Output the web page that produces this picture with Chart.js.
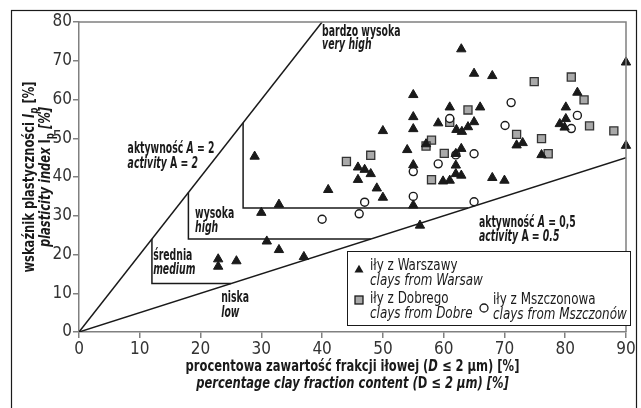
<!DOCTYPE html>
<html>
<head>
<meta charset="utf-8">
<script src="https://cdn.jsdelivr.net/npm/chart.js@4/dist/chart.umd.min.js"></script>
<style>
	html, body { margin: 0; padding: 0; background: #fff; }
	#wrap { width: 641px; height: 408px; }
</style>
</head>
<body>
<div id="wrap"><canvas id="chart" width="641" height="408"></canvas></div>
<script>
// clay content D <= 2 um [%] vs plasticity index Ip [%]
const warsawX = [28.9, 32.9, 30.0, 30.9, 32.9, 37.0, 22.9, 22.9, 25.9, 41.0,
	50.0, 55.0, 59.1, 54.0, 45.9, 47.0, 48.0, 45.9, 49.0, 50.0,
	55.0, 55.0, 56.1, 59.9, 61.0, 62.1, 63.0, 64.0, 65.0, 57.1,
	62.9, 62.0, 62.0, 62.0, 62.9, 62.9, 65.0, 68.0, 55.0, 61.0,
	66.0, 55.0, 82.0, 80.1, 80.1, 79.1, 79.9, 90.0, 72.0, 73.0,
	76.1, 68.0, 70.0, 90.0];
const warsawY = [45.3, 32.9, 30.8, 23.4, 21.2, 19.4, 18.8, 16.9, 18.3, 36.7,
	51.9, 52.4, 53.9, 47.0, 42.5, 41.9, 40.8, 39.3, 37.1, 34.7,
	43.1, 32.7, 27.5, 38.9, 39.1, 52.2, 51.7, 52.9, 54.2, 48.5,
	47.3, 46.0, 43.0, 40.8, 40.4, 73.0, 66.7, 66.1, 61.2, 58.0,
	58.0, 55.5, 61.8, 58.0, 55.0, 53.7, 52.8, 69.6, 48.2, 48.8,
	45.7, 39.8, 39.1, 48.1];

const dobreX = [44.0, 48.0, 58.0, 57.1, 60.1, 58.0, 61.0, 64.0, 74.9, 81.0, 83.1, 84.0, 88.0, 72.0, 76.1, 77.2];
const dobreY = [44.0, 45.6, 49.5, 48.0, 46.1, 39.3, 54.1, 57.3, 64.6, 65.8, 59.9, 53.2, 51.9, 51.0, 49.9, 46.0];

const mszczX = [40.0, 46.1, 47.0, 55.0, 55.0, 59.1, 62.0, 65.0, 65.0, 70.1, 71.1, 81.0, 82.0, 61.0];
const mszczY = [29.1, 30.5, 33.5, 35.0, 41.4, 43.4, 45.7, 46.0, 33.6, 53.3, 59.2, 52.5, 55.9, 55.1];

// activity lines and class boundaries (data units)
const activity2 = [[0, 0], [40, 80]];
const activity05 = [[0, 0], [90, 45]];
const stepMedium = [[12, 24], [12, 12.5], [25, 12.5]];
const stepHigh = [[18, 36], [18, 24], [48, 24]];
const stepVeryHigh = [[27, 54], [27, 32], [64, 32]];

const xTicks = [0, 10, 20, 30, 40, 50, 60, 70, 80, 90];
const yTicks = [0, 10, 20, 30, 40, 50, 60, 70, 80];

const FONT = "'Liberation Sans Narrow', 'DejaVu Sans Condensed', 'Arial Narrow', sans-serif";
const INK = '#1a1a1a';
const AXIS = '#808080';

const pts = (xs, ys) => xs.map((v, i) => ({x: v, y: ys[i]}));
const seg = (arr) => arr.map((p) => ({x: p[0], y: p[1]}));

const lineSet = (arr) => ({
	type: 'line',
	data: seg(arr),
	borderColor: INK,
	borderWidth: 1.5,
	pointRadius: 0,
	fill: false,
	tension: 0,
	order: 4
});

// mixed-style text: parts = [[text, style]] ; style letters b=bold i=italic s=subscript
// sx squeezes the text horizontally (the original uses a condensed face)
function rich(ctx, parts, x, y, size, align, sx) {
	const fontOf = (st) => {
		let sz = st.indexOf('s') >= 0 ? Math.round(size * 0.72) : size;
		return (st.indexOf('i') >= 0 ? 'italic ' : '') + (st.indexOf('b') >= 0 ? 'bold ' : '') + sz + 'px ' + FONT;
	};
	let w = 0;
	parts.forEach((p) => { ctx.font = fontOf(p[1]); w += ctx.measureText(p[0]).width; });
	ctx.save();
	ctx.translate(align === 'center' ? x - w * sx / 2 : x, y);
	ctx.scale(sx, 1);
	ctx.textAlign = 'left';
	ctx.textBaseline = 'middle';
	let cx = 0;
	parts.forEach((p) => {
		ctx.font = fontOf(p[1]);
		const dy = p[1].indexOf('s') >= 0 ? size * 0.3 : 0;
		ctx.fillText(p[0], cx, dy);
		cx += ctx.measureText(p[0]).width;
	});
	ctx.restore();
}

const labels = [
	{x: 40.0, y: 77.4, parts: [['bardzo wysoka', 'b']]},
	{x: 40.0, y: 74.0, parts: [['very high', 'bi']]},
	{x: 8.0, y: 47.3, parts: [['aktywność ', 'b'], ['A', 'bi'], [' = 2', 'b']]},
	{x: 8.0, y: 43.4, parts: [['activity', 'bi'], [' A ', 'b'], ['= 2', 'bi']]},
	{x: 19.1, y: 30.5, parts: [['wysoka', 'b']]},
	{x: 19.1, y: 26.7, parts: [['high', 'bi']]},
	{x: 12.2, y: 19.5, parts: [['średnia', 'b']]},
	{x: 12.2, y: 15.9, parts: [['medium', 'bi']]},
	{x: 23.4, y: 8.8, parts: [['niska', 'b']]},
	{x: 23.4, y: 4.9, parts: [['low', 'bi']]},
	{x: 65.8, y: 28.0, parts: [['aktywność ', 'b'], ['A', 'bi'], [' = 0,5', 'b']]},
	{x: 65.8, y: 24.4, parts: [['activity', 'bi'], [' A = ', 'b'], ['0.5', 'bi']]}
];

function drawMarker(ctx, kind, x, y) {
	ctx.save();
	ctx.lineWidth = 1.3;
	ctx.strokeStyle = INK;
	if (kind === 'triangle') {
		const r = 5.2;
		ctx.beginPath();
		ctx.moveTo(x, y - r);
		ctx.lineTo(x + r * 0.866, y + r * 0.5);
		ctx.lineTo(x - r * 0.866, y + r * 0.5);
		ctx.closePath();
		ctx.fillStyle = INK;
		ctx.fill();
	} else if (kind === 'rect') {
		ctx.fillStyle = '#a9a9a9';
		ctx.fillRect(x - 4, y - 4, 8, 8);
		ctx.strokeRect(x - 4, y - 4, 8, 8);
	} else {
		ctx.beginPath();
		ctx.arc(x, y, 4, 0, Math.PI * 2);
		ctx.fillStyle = '#fff';
		ctx.fill();
		ctx.stroke();
	}
	ctx.restore();
}

const deco = {
	id: 'deco',
	beforeDraw(chart) {
		const ctx = chart.ctx;
		ctx.save();
		ctx.fillStyle = '#fff';
		ctx.fillRect(0, 0, chart.width, chart.height);
		ctx.restore();
	},
	afterDraw(chart) {
		const {ctx, chartArea: a, scales: {x, y}} = chart;
		ctx.save();

		// top/right frame of the plot
		ctx.strokeStyle = AXIS;
		ctx.lineWidth = 1.5;
		ctx.beginPath();
		ctx.moveTo(a.left, a.top);
		ctx.lineTo(a.right, a.top);
		ctx.lineTo(a.right, a.bottom);
		ctx.stroke();

		// outer frame
		ctx.strokeStyle = INK;
		ctx.lineWidth = 1.2;
		ctx.strokeRect(11.5, 10.5, 625, 420);

		// zone labels
		ctx.fillStyle = INK;
		labels.forEach((l) => rich(ctx, l.parts, x.getPixelForValue(l.x), y.getPixelForValue(l.y), 15, 'left', 0.69));

		// axis titles
		const cx = (a.left + a.right) / 2;
		rich(ctx, [['procentowa zawartość frakcji iłowej (', 'b'], ['D', 'bi'], [' ≤ 2 µm) [%]', 'b']], cx, 367, 16, 'center', 0.8);
		rich(ctx, [['percentage clay fraction content (', 'bi'], ['D', 'b'], [' ≤ 2 µm) [%]', 'bi']], cx, 384, 16, 'center', 0.8);

		const cy = (a.top + a.bottom) / 2;
		ctx.save();
		ctx.translate(30, cy);
		ctx.rotate(-Math.PI / 2);
		rich(ctx, [['wskaźnik plastyczności ', 'b'], ['I', 'bi'], ['p', 'bis'], [' [%]', 'b']], 0, 0, 16, 'center', 0.8);
		ctx.restore();
		ctx.save();
		ctx.translate(46, cy);
		ctx.rotate(-Math.PI / 2);
		rich(ctx, [['plasticity index ', 'bi'], ['I', 'b'], ['p', 'bs'], [' [%]', 'bi']], 0, 0, 16, 'center', 0.8);
		ctx.restore();

		// legend
		ctx.fillStyle = '#fff';
		ctx.fillRect(347.5, 251.5, 283, 74);
		ctx.strokeStyle = INK;
		ctx.lineWidth = 1;
		ctx.strokeRect(347.5, 251.5, 283, 74);
		drawMarker(ctx, 'triangle', 359, 270);
		drawMarker(ctx, 'rect', 359, 300);
		drawMarker(ctx, 'circle', 484, 308);
		ctx.fillStyle = INK;
		rich(ctx, [['iły z Warszawy', '']], 370, 266, 16, 'left', 0.83);
		rich(ctx, [['clays from Warsaw', 'i']], 370, 281, 16, 'left', 0.83);
		rich(ctx, [['iły z Dobrego', '']], 370, 299, 16, 'left', 0.83);
		rich(ctx, [['clays from Dobre', 'i']], 370, 314, 16, 'left', 0.83);
		rich(ctx, [['iły z Mszczonowa', '']], 493, 300, 16, 'left', 0.83);
		rich(ctx, [['clays from Mszczonów', 'i']], 493, 315, 16, 'left', 0.83);

		ctx.restore();
	}
};

const tickFont = {family: FONT, size: 17};

new Chart(document.getElementById('chart'), {
	type: 'scatter',
	data: {
		datasets: [
			{
				label: 'iły z Warszawy',
				data: pts(warsawX, warsawY),
				pointStyle: 'triangle',
				pointRadius: 5.4,
				backgroundColor: INK,
				borderColor: INK,
				borderWidth: 1,
				clip: false,
				order: 1
			},
			{
				label: 'iły z Mszczonowa',
				data: pts(mszczX, mszczY),
				pointStyle: 'circle',
				pointRadius: 4,
				backgroundColor: '#fff',
				borderColor: INK,
				borderWidth: 1.4,
				clip: false,
				order: 2
			},
			{
				label: 'iły z Dobrego',
				data: pts(dobreX, dobreY),
				pointStyle: 'rect',
				pointRadius: 5.7,
				backgroundColor: '#a9a9a9',
				borderColor: '#333',
				borderWidth: 1.3,
				clip: false,
				order: 3
			},
			lineSet(activity2),
			lineSet(activity05),
			lineSet(stepMedium),
			lineSet(stepHigh),
			lineSet(stepVeryHigh)
		]
	},
	options: {
		responsive: false,
		animation: false,
		devicePixelRatio: 1,
		layout: { padding: { left: 0, top: 22, right: 15, bottom: 0 } },
		plugins: {
			legend: { display: false },
			tooltip: { enabled: false }
		},
		scales: {
			x: {
				type: 'linear',
				min: 0,
				max: 90,
				afterBuildTicks: (s) => { s.ticks = xTicks.map((v) => ({value: v})); },
				afterFit: (s) => { s.height = 76; },
				ticks: { font: tickFont, color: '#333', padding: 1, maxRotation: 0 },
				grid: { drawOnChartArea: false, drawTicks: true, tickLength: 6, color: AXIS, lineWidth: 1.5 },
				border: { color: AXIS, width: 1.5 }
			},
			y: {
				type: 'linear',
				min: 0,
				max: 80,
				afterBuildTicks: (s) => { s.ticks = yTicks.map((v) => ({value: v})); },
				afterFit: (s) => { s.width = 79; },
				ticks: { font: tickFont, color: '#333', padding: 1 },
				grid: { drawOnChartArea: false, drawTicks: true, tickLength: 6, color: AXIS, lineWidth: 1.5 },
				border: { color: AXIS, width: 1.5 }
			}
		}
	},
	plugins: [deco]
});
</script>
</body>
</html>
